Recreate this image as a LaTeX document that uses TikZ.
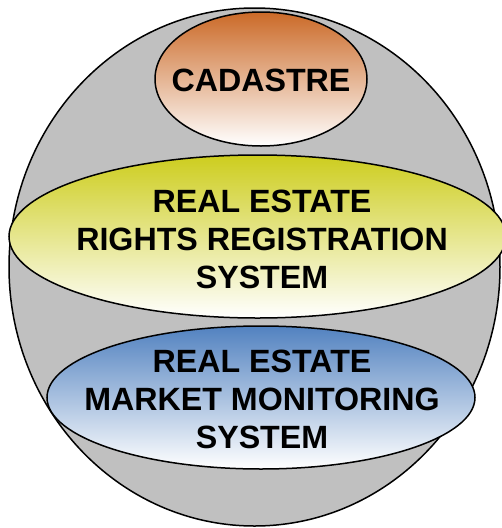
\documentclass[tikz,border=0pt]{standalone}
\usepackage{fontspec}
\setmainfont{Liberation Sans}
\usetikzlibrary{shapes.geometric}
\definecolor{outergray}{HTML}{C0C0C0}
\definecolor{cadorange}{HTML}{CB6A28}
\definecolor{regyellow}{HTML}{CDCD1E}
\definecolor{monblue}{HTML}{5282C0}
\tikzset{
  oval/.style={ellipse, draw=black, line width=1.5pt, inner sep=0pt, bottom color=white},
  caption/.style={align=center, inner sep=0pt, font=\fontsize{32.2}{38}\selectfont\bfseries},
}
\begin{document}
\begin{tikzpicture}[x=1pt,y=-1pt]
\useasboundingbox (0,0) rectangle (502,528);
\node[ellipse, draw=black, line width=1.5pt, fill=outergray, minimum width=491pt, minimum height=518pt, inner sep=0pt] (outer) at (254.5,267) {};
\node[oval, top color=cadorange, minimum width=212pt, minimum height=134pt] (cad) at (261,79) {};
\node[oval, top color=regyellow, minimum width=497pt, minimum height=163pt] (reg) at (257.5,236.5) {};
\node[oval, top color=monblue, minimum width=428pt, minimum height=143pt] (mon) at (261,397.5) {};
\node[caption] (cadtext) at (261,80.5) {CADASTRE};
\node[caption] (regtext) at (262,239) {REAL ESTATE\\RIGHTS REGISTRATION\\SYSTEM};
\node[caption] (montext) at (262,399.5) {REAL ESTATE\\MARKET MONITORING\\SYSTEM};
\end{tikzpicture}
\end{document}
